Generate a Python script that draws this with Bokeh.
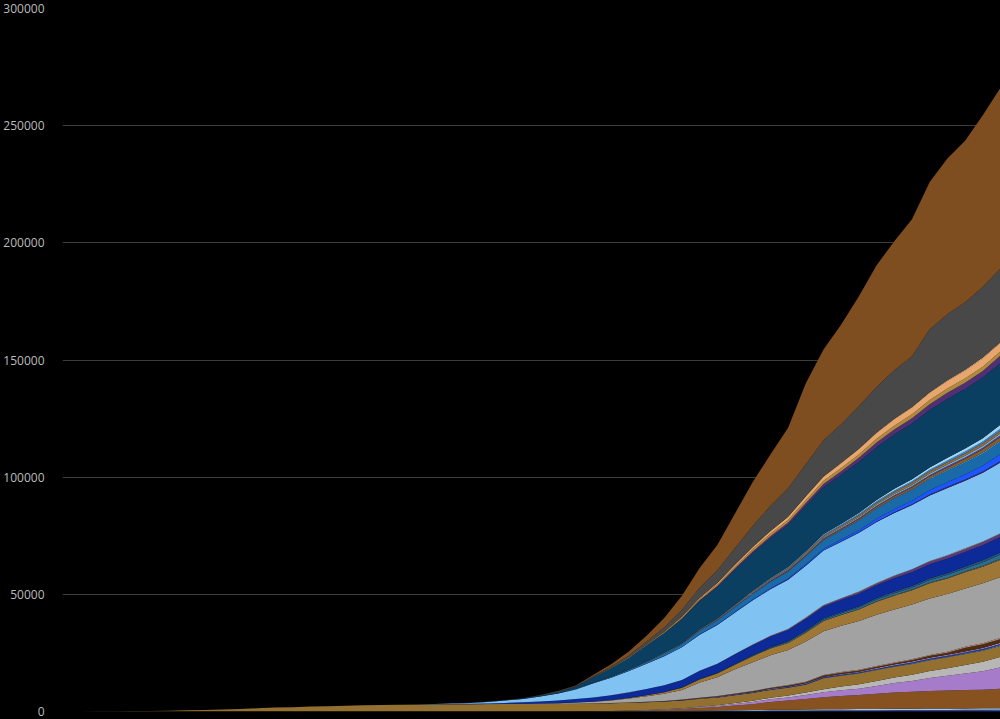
import pandas as pd
from bokeh.plotting import figure
from bokeh.models import ColumnDataSource, Range1d, FixedTicker, BasicTickFormatter
from bokeh.embed import file_html
from bokeh.resources import INLINE

# sample dates: every 2 days, 22 Jan 2020 .. 7 May 2020
dates = pd.date_range("2020-01-22", "2020-05-07", freq="2D")

algeria = [0,0,0,0,0,0,0,0,0,0, 0,0,0,0,0,0,0,0,0,0,
           0,0,0,0,0,1,3,4,7,10, 17,21,25,31,44,58,105,152,193,235,
           293,326,364,367,375,392,407,418,425,444, 453,463,476,494]
argentina = [0,0,0,0,0,0,0,0,0,0, 0,0,0,0,0,0,0,0,0,0,
             0,0,0,1,1,1,2,2,2,3, 4,6,8,18,23,28,43,60,82,90,
             95,102,115,129,136,152,165,185,197,207, 218,237,260,282]
austria = [0,0,0,0,0,0,0,0,0,0, 0,0,0,0,0,0,0,0,0,0,
           0,0,0,0,0,1,1,4,6,6, 16,28,49,68,108,146,204,243,273,295,
           337,350,393,431,452,470,510,536,549,580, 589,598,606,609]
belgium = [0,0,0,0,0,0,0,0,0,0, 0,0,0,0,0,0,0,0,0,0,
           0,0,0,0,0,3,4,5,14,37, 75,122,220,353,513,828,1143,1447,2035,2523,
           3346,3903,4440,5163,5683,5998,6490,6917,7207,7501, 7703,7844,7965,8339]
brazil = [0,0,0,0,0,0,0,0,0,0, 0,0,0,0,0,0,0,0,0,0,
          0,0,0,0,0,0,0,0,3,11, 25,46,77,111,159,241,365,486,667,950,
          1124,1328,1736,2141,2462,2741,3331,4057,4603,5513, 6329,7051,7921,9146]
canada = [0,0,0,0,0,0,0,0,0,0, 0,0,0,0,0,0,0,0,0,0,
          0,0,0,0,1,1,1,4,8,12, 20,25,39,61,89,110,208,258,381,503,
          653,780,1010,1310,1560,1834,2141,2350,2707,2996, 3184,3682,4043,4480]
china = [17,26,56,131,170,259,361,490,636,812,
         1017,1368,1662,1863,2118,2236,2443,2663,2744,2835,
         2912,2981,3041,3097,3136,3172,3189,3213,3242,3253,
         3270,3281,3291,3299,3308,3318,3326,3331,3337,3339,
         3340,3341,3342,4632,4632,4632,4632,4632,4633,4633, 4633,4633,4633,4633]
colombia = [0,0,0,0,0,0,0,0,0,0, 0,0,0,0,0,0,0,0,0,0,
            0,0,0,0,0,0,0,0,0,0, 1,3,6,10,16,17,35,46,55,69,
            100,112,144,166,179,196,215,225,244,269, 293,314,358,407]
denmark = [0,0,0,0,0,0,0,0,0,0, 0,0,0,0,0,0,0,0,0,0,
           0,0,0,0,0,0,1,3,4,9, 13,32,52,65,90,123,161,187,218,237,
           260,285,309,336,355,370,394,418,434,443, 452,475,506,514]
dominican = [0,0,0,0,0,0,0,0,0,0, 0,0,0,0,0,0,0,0,0,0,
             0,0,0,0,0,0,0,1,2,2, 3,6,10,39,51,68,86,98,108,118,
             135,177,189,200,217,226,260,273,286,301, 313,346,362,373]
ecuador = [0,0,0,0,0,0,0,0,0,0, 0,0,0,0,0,0,0,0,0,0,
           0,0,0,0,0,0,2,2,3,5, 14,29,48,75,79,120,145,180,191,272,
           315,403,421,474,503,520,560,576,663,883, 900,1564,1569,1618]
egypt = [0,0,0,0,0,0,0,0,0,0, 0,0,0,0,0,0,0,0,0,0,
         0,0,0,0,1,2,2,4,6,9, 14,20,24,36,40,52,66,85,103,118,
         135,159,196,224,250,264,294,317,345,380, 406,429,469,503]
france = [0,0,0,0,0,0,0,0,0,0, 0,0,1,1,1,1,1,1,2,2,
          3,4,9,19,33,48,91,148,244,451, 674,1100,1698,2317,3024,4043,6520,8093,10343,12228,
          13851,14986,17188,18703,19744,20829,21889,22648,23327,24121, 24628,24900,25537,25990]
germany = [0,0,0,0,0,0,0,0,0,0, 0,0,0,0,0,0,0,0,0,0,
           0,0,0,0,2,3,12,17,28,67, 94,149,253,433,645,931,1275,1584,2016,2607,
           2871,3022,3804,4352,4586,4862,5500,5865,6126,6467, 6692,6866,7119,7369]
hungary = [0,0,0,0,0,0,0,0,0,0, 0,0,0,0,0,0,0,0,0,0,
           0,0,0,0,0,0,0,1,1,4, 10,10,10,13,15,26,34,38,47,66,
           85,99,122,156,189,213,239,262,280,300, 312,335,351,373]
india = [0,0,0,0,0,0,0,0,0,0, 0,0,0,0,0,0,0,0,0,0,
         0,0,0,0,0,1,2,2,3,4, 7,10,17,27,32,38,72,96,149,199,
         242,339,420,488,559,640,723,826,886,1079, 1223,1323,1568,1886]
indonesia = [0,0,0,0,0,0,0,0,0,0, 0,0,0,0,0,0,0,0,0,0,
             0,0,0,0,0,1,5,5,19,32, 48,55,78,102,122,157,181,191,209,280,
             327,373,469,520,582,616,647,689,743,784, 800,831,864,930]
iran = [0,0,0,0,0,0,0,0,0,0, 0,0,0,0,2,4,8,16,26,43,
        66,92,124,194,291,429,611,853,1135,1433, 1685,1934,2234,2517,2757,3036,3294,3603,3872,4110,
        4357,4585,4777,4958,5118,5297,5481,5650,5806,5957, 6091,6203,6340,6486]
ireland = [0,0,0,0,0,0,0,0,0,0, 0,0,0,0,0,0,0,0,0,0,
           0,0,0,0,0,1,2,2,3,3, 6,7,19,36,54,85,98,158,210,263,
           320,406,486,530,610,730,794,1014,1087,1190, 1265,1303,1339,1403]
israel = [0,0,0,0,0,0,0,0,0,0, 0,0,0,0,0,0,0,0,0,0,
          0,0,0,0,0,0,0,0,0,1, 1,5,10,12,16,37,57,65,79,96,
          107,126,140,157,172,184,192,199,205,212, 222,232,236,240]
italy = [0,0,0,0,0,0,0,0,0,0, 0,0,0,0,0,1,3,11,17,29,
         52,107,197,366,631,1016,1441,2158,2978,4032, 6077,7503,9134,10779,12428,13915,15362,16523,17669,18849,
         19899,21067,22170,23227,24114,25085,25969,26644,27359,27967, 28710,28884,29315,30201]
japan = [0,0,0,0,0,0,0,0,0,0, 0,1,1,1,1,2,3,3,4,5,
         6,6,6,6,10,15,21,22,28,33, 41,42,45,49,54,57,69,85,98,104,
         108,136,146,186,222,238,301,348,372,415, 455,492,536,577]
mexico = [0,0,0,0,0,0,0,0,0,0, 0,0,0,0,0,0,0,0,0,0,
          0,0,0,0,0,0,0,0,0,1, 2,5,8,16,28,37,79,125,141,194,
          273,332,449,546,686,857,1069,1305,1434,1732, 1972,2154,2507,2961]
netherlands = [0,0,0,0,0,0,0,0,0,0, 0,0,0,0,0,0,0,0,0,0,
               0,0,1,3,5,5,12,24,58,107, 180,277,435,640,865,1175,1490,1768,2108,2403,
               2747,2945,3327,3613,3764,4068,4303,4491,4566,4727, 4893,5007,5088,5222]
pakistan = [0,0,0,0,0,0,0,0,0,0, 0,0,0,0,0,0,0,0,0,0,
            0,0,0,0,0,0,0,0,0,2, 3,6,8,12,21,26,35,45,54,64,
            86,96,111,143,168,201,237,269,292,327, 385,440,506,564]
peru = [0,0,0,0,0,0,0,0,0,0, 0,0,0,0,0,0,0,0,0,0,
        0,0,0,0,0,0,0,0,0,0, 2,4,7,9,16,24,61,83,107,138,
        169,216,274,348,445,530,634,700,854,943, 1051,1200,1444,1627]
philippines = [0,0,0,0,0,0,0,0,0,0, 0,0,0,0,0,0,0,0,0,0,
               0,0,0,0,0,2,6,12,17,19, 25,33,38,68,71,96,144,182,203,247,
               297,349,387,409,437,446,462,494,511,558, 579,603,637,685]
poland = [0,0,0,0,0,0,0,0,0,0, 0,0,0,0,0,0,0,0,0,0,
          0,0,0,0,0,1,3,5,5,5, 7,10,14,18,31,57,79,107,152,183,
          208,257,286,347,380,404,454,524,562,596, 628,678,723,755]
portugal = [0,0,0,0,0,0,0,0,0,0, 0,0,0,0,0,0,0,0,0,0,
            0,0,0,0,0,0,0,0,2,6, 14,33,60,100,140,187,246,295,345,409,
            470,535,599,657,714,762,820,880,928,973, 1007,1043,1074,1105]
romania = [0,0,0,0,0,0,0,0,0,0, 0,0,0,0,0,0,0,0,0,0,
           0,0,0,0,0,0,0,0,0,0, 3,11,17,37,69,92,133,151,197,242,
           291,344,392,437,498,545,585,619,651,693, 744,790,833,888]
russia = [0,0,0,0,0,0,0,0,0,0, 0,0,0,0,0,0,0,0,0,1,
          1,1,1,1,1,1,1,1,1,1, 1,2,3,4,9,17,34,45,63,94,
          130,170,232,313,361,456,555,681,794,972, 1169,1280,1451,1723]
spain = [0,0,0,0,0,0,0,0,0,0, 0,0,0,0,0,0,0,0,0,0,
         0,1,5,17,36,86,196,342,623,1043, 2311,3647,4858,6803,8464,10348,11947,13341,14792,15970,
         16972,18056,19315,20043,20852,21717,22524,23190,23822,24543, 25100,25428,25857,26299]
sweden = [0,0,0,0,0,0,0,0,0,0, 0,0,0,0,0,0,0,0,0,0,
          0,0,0,0,0,1,3,6,10,16, 21,36,77,105,146,239,333,401,591,793,
          887,919,1203,1400,1540,1765,2021,2192,2274,2462, 2653,2679,2854,3175]
switzerland = [0,0,0,0,0,0,0,0,0,0, 0,0,0,0,0,0,0,0,0,0,
               0,0,1,2,4,4,14,27,33,63, 98,153,192,264,359,488,591,715,821,948,
               1036,1138,1239,1327,1393,1478,1549,1599,1627,1737, 1762,1784,1805,1823]
turkey = [0,0,0,0,0,0,0,0,0,0, 0,0,0,0,0,0,0,0,0,0,
          0,0,0,0,0,0,0,0,1,9, 30,44,75,108,168,277,425,574,725,908,
          1101,1296,1518,1769,2017,2259,2491,2706,2900,3081, 3258,3397,3520,3641]
ukraine = [0,0,0,0,0,0,0,0,0,0, 0,0,0,0,0,0,0,0,0,0,
           0,0,0,0,0,0,1,2,3,3, 3,5,7,9,17,22,37,37,52,69,
           83,98,116,133,151,174,187,209,239,261, 279,316,361,376]
uk = [0,0,0,0,0,0,0,0,0,0, 0,0,0,0,0,0,0,0,0,0,
      0,0,1,3,6,8,21,56,104,178, 335,465,759,1228,1793,2926,4320,5385,7111,8974,
      10612,12107,13729,15464,16509,18100,19506,20732,21678,26842, 28205,28809,30150,31316]
us = [0,0,0,0,0,0,0,0,0,0, 0,0,0,0,0,0,0,0,0,1,
      6,11,14,21,28,36,57,86,149,250, 550,1000,1700,2500,4000,6000,8400,10800,14700,18700,
      22000,25800,34500,38700,42500,47000,51900,55000,58400,62900, 66400,69000,73300,77200]

countries = ["Algeria", "Argentina", "Austria", "Belgium", "Brazil", "Canada", "China",
             "Colombia", "Denmark", "Dominican Republic", "Ecuador", "Egypt", "France",
             "Germany", "Hungary", "India", "Indonesia", "Iran", "Ireland", "Israel",
             "Italy", "Japan", "Mexico", "Netherlands", "Pakistan", "Peru", "Philippines",
             "Poland", "Portugal", "Romania", "Russia", "Spain", "Sweden", "Switzerland",
             "Turkey", "Ukraine", "United Kingdom", "US"]
series = [algeria, argentina, austria, belgium, brazil, canada, china, colombia, denmark,
          dominican, ecuador, egypt, france, germany, hungary, india, indonesia, iran,
          ireland, israel, italy, japan, mexico, netherlands, pakistan, peru, philippines,
          poland, portugal, romania, russia, spain, sweden, switzerland, turkey, ukraine,
          uk, us]
colors = ["#2a63e8", "#6f4a9a", "#9ec9ee", "#87521f", "#a67bc9", "#b7b7b7", "#93702f",
          "#3f7fc6", "#2b3c9e", "#d0a0d8", "#4a2d12", "#c08a70", "#a2a2a2",
          "#9e7737", "#5a5a5a", "#2b6d8a", "#27507a", "#0d2b98", "#573a7c", "#c9a36a",
          "#80c3f3", "#3b2a6e", "#1f55ff", "#1a6aa9", "#35a0d8", "#8c5b2b", "#5c4080",
          "#6fb5e6", "#9a6a30", "#3a7fc0", "#9fd3f2", "#0b3f62", "#4f3075", "#b08a3c",
          "#e7a66e", "#f0c08a", "#484848", "#7f4e20"]

assert len(countries) == len(series) == len(colors)
for s in series:
    assert len(s) == len(dates), len(s)

data = {"date": list(dates)}
for name, vals in zip(countries, series):
    data[name] = vals
source = ColumnDataSource(data)

p = figure(width=1000, height=719, output_backend="svg", toolbar_location=None,
           x_axis_type="datetime", x_axis_location=None,
           x_range=Range1d(dates[0], dates[-1]), y_range=Range1d(0, 300000),
           min_border_top=8, min_border_bottom=8, min_border_right=0, min_border_left=0)
p.background_fill_color = "black"
p.border_fill_color = "black"
p.outline_line_color = None

p.varea_stack(stackers=countries, x="date", color=colors, source=source)

p.xgrid.visible = False
p.ygrid.grid_line_color = "#3c3c3c"
p.ygrid.grid_line_width = 1

ax = p.yaxis[0]
ax.ticker = FixedTicker(ticks=[0, 50000, 100000, 150000, 200000, 250000, 300000])
ax.formatter = BasicTickFormatter(use_scientific=False)
ax.axis_line_color = None
ax.major_tick_line_color = None
ax.minor_tick_line_color = None
ax.major_label_text_color = "#bcbcbc"
ax.major_label_text_font = "Open Sans"
ax.major_label_text_font_size = "12px"
ax.major_label_standoff = 12

html = file_html(p, INLINE)
html = html.replace("<head>", "<head><style>html,body{background:#000;}</style>", 1)
open("out.html", "w").write(html)
